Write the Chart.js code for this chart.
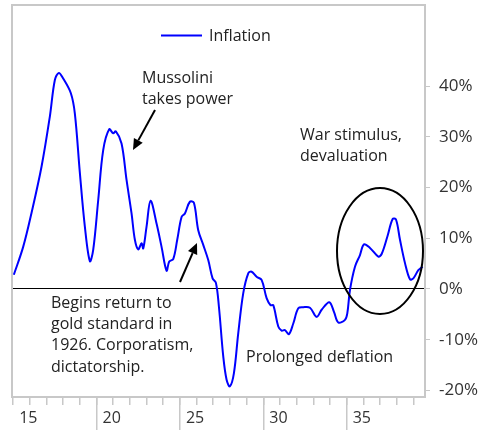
<!DOCTYPE html>
<html>
<head>
<meta charset="utf-8">
<script src="https://cdn.jsdelivr.net/npm/chart.js@4.4.1/dist/chart.umd.min.js"></script>
<style>
  html, body { margin: 0; padding: 0; background: #fff; }
  #wrap { width: 487px; height: 430px; }
</style>
</head>
<body>
<div id="wrap"><canvas id="chart" width="487" height="430"></canvas></div>
<script>
// --- DATA ---
const years = [
  1915.04, 1915.6, 1916.1, 1916.7, 1917.2, 1917.5, 1917.74, 1918.0, 1918.46, 1918.7,
  1919.0, 1919.3, 1919.6, 1919.8, 1920.1, 1920.4, 1920.76, 1921.0, 1921.16, 1921.5,
  1921.8, 1922.1, 1922.3, 1922.5, 1922.7, 1922.8, 1923.0, 1923.24, 1923.6, 1923.9,
  1924.2, 1924.36, 1924.6, 1924.84, 1925.1, 1925.3, 1925.6, 1925.84, 1926.1, 1926.4,
  1926.7, 1926.96, 1927.16, 1927.34, 1927.6, 1927.8, 1928.0, 1928.24, 1928.5, 1928.8,
  1929.1, 1929.3, 1929.6, 1929.9, 1930.2, 1930.44, 1930.6, 1930.9, 1931.1, 1931.3,
  1931.54, 1931.8, 1932.1, 1932.4, 1932.8, 1933.2, 1933.5, 1933.96, 1934.24, 1934.5,
  1934.9, 1935.04, 1935.2, 1935.5, 1935.8, 1936.04, 1936.4, 1936.9, 1937.1, 1937.44,
  1937.76, 1937.96, 1938.2, 1938.5, 1938.8, 1939.0, 1939.3, 1939.56
];
const inflation = [
  2.8, 8.3, 15, 24.1, 34, 41.2, 42.6, 41.5, 38.6, 34.6,
  22.9, 12.3, 5.5, 7.7, 17.5, 27.4, 31.5, 30.7, 31.1, 28.7,
  21.5, 14.9, 9.7, 7.8, 9.0, 8.0, 12.3, 17.4, 12.9, 8.3,
  3.6, 5.4, 5.9, 9.7, 14.2, 14.9, 17.2, 17.0, 11.6, 8.7,
  5.7, 2.1, 1.2, -3.5, -13.3, -17.9, -19.2, -16.6, -8.7, -0.8,
  3.1, 3.4, 2.4, 1.8, -1.8, -3.2, -3.2, -7.4, -8.2, -8.1,
  -8.9, -6.8, -3.8, -3.6, -3.7, -5.5, -4.1, -2.6, -4.5, -6.6,
  -6.1, -4.8, -0.2, 4.4, 6.7, 8.8, 8.1, 6.4, 6.9, 10.3,
  13.8, 13.7, 9.7, 5.1, 1.9, 2.1, 3.7, 4.4
];
const yearTicks = [1915, 1916, 1917, 1918, 1919, 1920, 1921, 1922, 1923, 1924, 1925, 1926,
  1927, 1928, 1929, 1930, 1931, 1932, 1933, 1934, 1935, 1936, 1937, 1938, 1939];
const majorYears = [1915, 1920, 1925, 1930, 1935];
const yTicks = [-20, -10, 0, 10, 20, 30, 40];

const X_MIN = 1914.93;
const X_MAX = 1939.7;
const Y_MIN = -21.3;
const Y_MAX = 56;

const FONT = '"Open Sans", "Noto Sans", sans-serif';
const FRAME = '#c8c8c8';

function arrow(ctx, x1, y1, x2, y2) {
  const a = Math.atan2(y2 - y1, x2 - x1);
  const len = 11, half = 5;
  const bx = x2 - len * Math.cos(a), by = y2 - len * Math.sin(a);
  ctx.beginPath();
  ctx.moveTo(x1, y1);
  ctx.lineTo(bx, by);
  ctx.stroke();
  ctx.beginPath();
  ctx.moveTo(x2, y2);
  ctx.lineTo(bx + half * Math.sin(a), by - half * Math.cos(a));
  ctx.lineTo(bx - half * Math.sin(a), by + half * Math.cos(a));
  ctx.closePath();
  ctx.fill();
}

// frame, legend and notes
const extras = {
  id: 'extras',
  beforeDatasetsDraw(chart) {
    const { ctx, chartArea: a } = chart;
    ctx.save();
    ctx.strokeStyle = FRAME;
    ctx.lineWidth = 2;
    ctx.strokeRect(a.left, a.top, a.right - a.left, a.bottom - a.top);
    ctx.restore();
  },
  afterDraw(chart) {
    const { ctx } = chart;
    const ds = chart.data.datasets[0];
    ctx.save();
    // legend
    ctx.strokeStyle = ds.borderColor;
    ctx.lineWidth = 2;
    ctx.beginPath();
    ctx.moveTo(161, 35.5);
    ctx.lineTo(202, 35.5);
    ctx.stroke();
    ctx.fillStyle = '#222';
    ctx.font = '16px ' + FONT;
    ctx.textBaseline = 'alphabetic';
    ctx.fillText(ds.label, 209, 41);

    const notes = [
      ['Mussolini', 142, 83],
      ['takes power', 142, 104],
      ['War stimulus,', 300, 139.5],
      ['devaluation', 300, 160.5],
      ['Begins return to', 51, 307.5],
      ['gold standard in', 51, 328.5],
      ['1926. Corporatism,', 51, 350],
      ['dictatorship.', 51, 371.5],
      ['Prolonged deflation', 246, 361.5]
    ];
    notes.forEach(n => ctx.fillText(n[0], n[1], n[2]));

    ctx.strokeStyle = '#000';
    ctx.fillStyle = '#000';
    ctx.lineWidth = 2;
    arrow(ctx, 155, 110, 133, 150);
    arrow(ctx, 180, 282, 197, 243);

    ctx.beginPath();
    ctx.ellipse(380, 251, 43, 63, 0, 0, Math.PI * 2);
    ctx.stroke();
    ctx.restore();
  }
};

const chart = new Chart(document.getElementById('chart'), {
  type: 'line',
  data: {
    datasets: [{
      label: 'Inflation',
      data: years.map((y, i) => ({ x: y, y: inflation[i] })),
      borderColor: '#0000ff',
      borderWidth: 2,
      pointRadius: 0,
      tension: 0.35,
      fill: false
    }]
  },
  options: {
    responsive: false,
    animation: false,
    layout: { padding: { left: 12, top: 5, right: 0, bottom: 0 } },
    plugins: { legend: { display: false }, tooltip: { enabled: false } },
    scales: {
      x: {
        type: 'linear',
        min: X_MIN,
        max: X_MAX,
        weight: 1,
        afterBuildTicks: s => { s.ticks = yearTicks.map(v => ({ value: v })); },
        afterFit: s => { s.height = 33; s.paddingLeft = 0; s.paddingRight = 0; },
        border: { display: false },
        grid: { drawOnChartArea: false, tickLength: 8, tickColor: FRAME, lineWidth: 1.5 },
        ticks: {
          autoSkip: false,
          maxRotation: 0,
          align: 'start',
          labelOffset: 6,
          padding: 4,
          color: '#333',
          font: { family: FONT, size: 16 },
          callback: v => majorYears.includes(v) ? String(v).slice(2) : ''
        }
      },
      x2: {
        type: 'linear',
        min: X_MIN,
        max: X_MAX,
        position: 'bottom',
        weight: 0,
        afterBuildTicks: s => { s.ticks = majorYears.map(v => ({ value: v })); },
        afterFit: s => { s.height = 0; s.paddingLeft = 0; s.paddingRight = 0; },
        border: { display: false },
        grid: {
          drawOnChartArea: false,
          tickLength: 33,
          lineWidth: 1.5,
          tickColor: c => c.tick && c.tick.value === majorYears[0] ? 'transparent' : FRAME
        },
        ticks: { display: false }
      },
      y: {
        position: 'right',
        min: Y_MIN,
        max: Y_MAX,
        afterBuildTicks: s => { s.ticks = yTicks.map(v => ({ value: v })); },
        afterFit: s => { s.width = 62; s.paddingTop = 0; s.paddingBottom = 0; },
        border: { display: false },
        grid: {
          color: c => c.tick && c.tick.value === 0 ? '#000' : 'transparent',
          tickColor: FRAME,
          tickLength: 5,
          lineWidth: 1
        },
        ticks: {
          padding: 9,
          color: '#333',
          font: { family: FONT, size: 17 },
          callback: v => v + '%'
        }
      }
    }
  },
  plugins: [extras]
});
</script>
</body>
</html>
